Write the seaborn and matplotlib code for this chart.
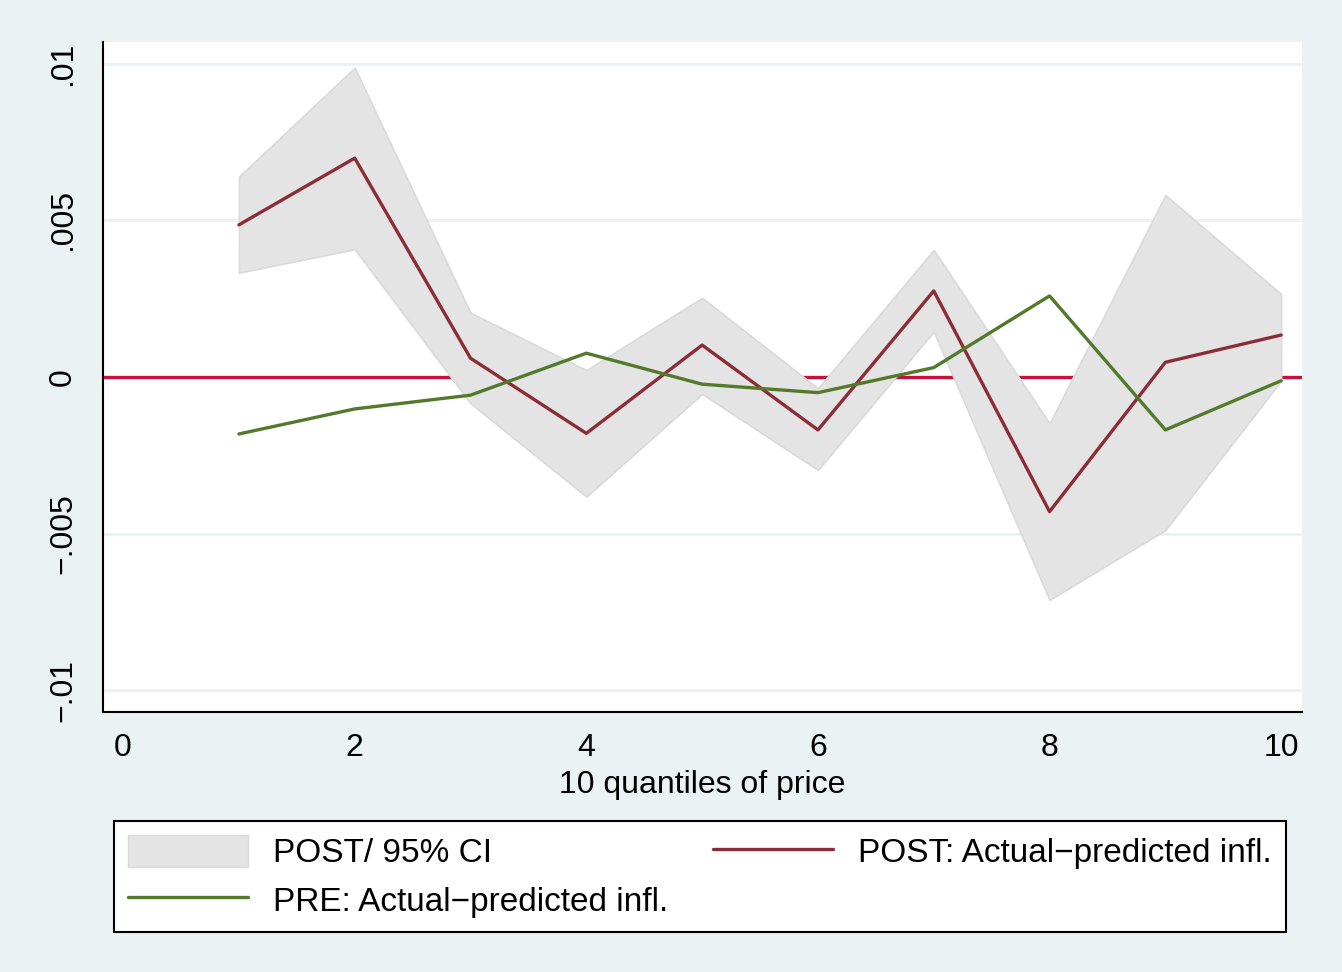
import matplotlib
matplotlib.use("Agg")
import matplotlib.pyplot as plt
from matplotlib.patches import Patch
from matplotlib.lines import Line2D
import numpy as np
import pandas as pd
import seaborn as sns

# Quantile index (1..10)
quantile = [1, 2, 3, 4, 5, 6, 7, 8, 9, 10]
# POST: actual minus predicted inflation, with 95% CI bounds
post_gap = [0.00486, 0.00699, 0.00060, -0.00180, 0.00102, -0.00169, 0.00275, -0.00430, 0.00047, 0.00134]
post_ci_hi = [0.00640, 0.00988, 0.00205, 0.00022, 0.00253, -0.00036, 0.00406, -0.00148, 0.00581, 0.00265]
post_ci_lo = [0.00333, 0.00408, -0.00084, -0.00382, -0.00054, -0.00297, 0.00145, -0.00712, -0.00489, -0.00012]
# PRE: actual minus predicted inflation
pre_gap = [-0.00182, -0.00102, -0.00058, 0.00076, -0.00023, -0.00050, 0.00030, 0.00259, -0.00169, -0.00012]

x_ticks = [0, 2, 4, 6, 8, 10]
y_ticks = [-0.01, -0.005, 0, 0.005, 0.01]
y_tick_labels = ["\u2212.01", "\u2212.005", "0", ".005", ".01"]

df = pd.DataFrame({"q": quantile, "post": post_gap, "pre": pre_gap,
                   "hi": post_ci_hi, "lo": post_ci_lo})

sns.set_theme(style="white")
plt.rcParams["font.family"] = ["Liberation Sans", "DejaVu Sans"]
plt.rcParams["text.color"] = "black"
plt.rcParams["axes.labelcolor"] = "black"

BG = "#eaf2f3"
C_POST = "#8c2d36"
C_PRE = "#537a2b"
C_ZERO = "#c8103c"
C_BAND = "#e4e4e4"

fig = plt.figure(figsize=(13.42, 9.72), dpi=100, facecolor=BG)
ax = fig.add_axes([0.0768, 0.2675, 0.8934, 0.6893])
ax.set_facecolor("white")

ax.set_xlim(-0.173, 10.18)
ax.set_ylim(-0.0107, 0.0107)

# horizontal grid
for yv in y_ticks:
    ax.axhline(yv, color=BG, lw=2, zorder=0)

# reference line at zero, drawn beneath the band
ax.axhline(0, color=C_ZERO, lw=2.4, zorder=1)

ax.fill_between(df["q"], df["lo"], df["hi"], facecolor=C_BAND,
                edgecolor="#dadada", lw=1.2, zorder=2)

sns.lineplot(data=df, x="q", y="post", color=C_POST, lw=2.4, ax=ax, zorder=3)
sns.lineplot(data=df, x="q", y="pre", color=C_PRE, lw=2.4, ax=ax, zorder=3)

ax.set_xticks(x_ticks)
ax.set_xticklabels([str(v) for v in x_ticks])
ax.set_yticks(y_ticks)
ax.set_yticklabels(y_tick_labels, rotation=90, va="center")

for s in ["top", "right"]:
    ax.spines[s].set_visible(False)
for s in ["left", "bottom"]:
    ax.spines[s].set_color("black")
    ax.spines[s].set_linewidth(1.5)

ax.tick_params(axis="both", direction="out", length=9, width=1.3,
               color="black", labelsize=23, labelcolor="black", pad=6)
ax.tick_params(axis="y", pad=9)
ax.set_xlabel("10 quantiles of price", fontsize=23, color="black", labelpad=5)
ax.set_ylabel("")

handles = [
    Patch(facecolor=C_BAND, edgecolor="#dadada", label="POST/ 95% CI"),
    Line2D([], [], color=C_PRE, lw=2.4, label="PRE: Actual\u2212predicted infl."),
    Line2D([], [], color=C_POST, lw=2.4, label="POST: Actual\u2212predicted infl."),
]
leg = fig.legend(handles=handles, ncol=2, loc="upper left",
                 bbox_to_anchor=(114 / 1342, 1 - 821 / 972),
                 fontsize=24, frameon=True, fancybox=False, framealpha=1,
                 edgecolor="black", facecolor="white",
                 handlelength=3.6, handleheight=1.1, handletextpad=0.75,
                 columnspacing=1.35, labelspacing=0.42, borderpad=0.42,
                 borderaxespad=0)
leg.get_frame().set_linewidth(1.5)
for t in leg.get_texts():
    t.set_color("black")

fig.savefig("out.png", dpi=100, facecolor=BG)
